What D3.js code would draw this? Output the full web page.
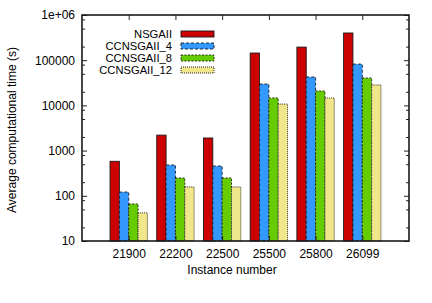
<!DOCTYPE html>
<html>
<head>
<meta charset="utf-8">
<script src="https://cdn.jsdelivr.net/npm/d3@7"></script>
<style>
  body { margin: 0; background: #fff; }
  svg { display: block; font-family: "Liberation Sans", Arial, sans-serif; }
  .axis text { font-size: 12px; fill: #000; }
  .axis line { stroke: #222; }
  .axis path { display: none; }
</style>
</head>
<body>
<svg id="chart" width="432" height="303"></svg>
<script>
// instances on the x axis
const instances = ['21900', '22200', '22500', '25500', '25800', '26099'];
const seriesNames = ['NSGAII', 'CCNSGAII_4', 'CCNSGAII_8', 'CCNSGAII_12'];

// average computational time (s)
const nsgaii      = [580, 2200, 1900, 144000, 195000, 400000];
const ccnsgaii4   = [121, 480, 455, 29700, 42500, 82000];
const ccnsgaii8   = [66, 248, 248, 14600, 20800, 40400];
const ccnsgaii12  = [42, 157, 157, 10700, 14600, 28300];

const yMajor = [10, 100, 1000, 10000, 100000, 1000000];

const seriesValues = [nsgaii, ccnsgaii4, ccnsgaii8, ccnsgaii12];
const colors = ['#cc0000', '#3399ff', '#66cc00', '#f0e68c'];
const dashes = [null, '3,2', '2,1.5', '1,1'];

const svg = d3.select('#chart');
const plotL = 82, plotR = 409, plotT = 15, plotB = 241;

// x: category index, with half a slot of padding (-1..6 like gnuplot)
const x = d3.scaleLinear().domain([-1, 6]).range([plotL, plotR]);
const y = d3.scaleLog().domain([10, 1e6]).range([plotB, plotT]);

const barW = 0.2;

// bars
seriesValues.forEach((vals, s) => {
  svg.append('g')
    .selectAll('rect')
    .data(vals)
    .enter()
    .append('rect')
    .attr('x', (d, i) => x(i - 0.4 + s * barW))
    .attr('width', x(barW) - x(0))
    .attr('y', d => y(d))
    .attr('height', d => plotB - y(d))
    .attr('fill', colors[s])
    .attr('stroke', '#1a1a1a')
    .attr('stroke-width', 0.9)
    .attr('stroke-dasharray', dashes[s]);
});

// minor log ticks at 2, 5, 8 of each decade
const yMinor = [];
yMajor.slice(0, -1).forEach(v => [2, 5, 8].forEach(k => yMinor.push(v * k)));

const fmt = d => d === 1e6 ? '1e+06' : String(d);

svg.append('g').attr('class', 'axis')
  .attr('transform', `translate(${plotL},0)`)
  .call(d3.axisLeft(y).tickValues(yMajor).tickFormat(fmt).tickSize(-5).tickPadding(7));
svg.append('g').attr('class', 'axis')
  .attr('transform', `translate(${plotL},0)`)
  .call(d3.axisLeft(y).tickValues(yMinor).tickFormat('').tickSize(-3));
svg.append('g').attr('class', 'axis')
  .attr('transform', `translate(${plotR},0)`)
  .call(d3.axisRight(y).tickValues(yMajor).tickFormat('').tickSize(-5));
svg.append('g').attr('class', 'axis')
  .attr('transform', `translate(${plotR},0)`)
  .call(d3.axisRight(y).tickValues(yMinor).tickFormat('').tickSize(-3));

// category ticks, bottom with labels and mirrored on top
svg.append('g').attr('class', 'axis')
  .attr('transform', `translate(0,${plotB})`)
  .call(d3.axisBottom(x).tickValues(d3.range(instances.length))
    .tickFormat(i => instances[i]).tickSize(-5).tickPadding(8));
svg.append('g').attr('class', 'axis')
  .attr('transform', `translate(0,${plotT})`)
  .call(d3.axisTop(x).tickValues(d3.range(instances.length)).tickFormat('').tickSize(-5));

// frame
svg.append('rect')
  .attr('x', plotL).attr('y', plotT)
  .attr('width', plotR - plotL).attr('height', plotB - plotT)
  .attr('fill', 'none').attr('stroke', '#1a1a1a').attr('stroke-width', 1.6);

// legend
const legend = svg.append('g').attr('transform', 'translate(0,34)');
seriesNames.forEach((name, s) => {
  const g = legend.append('g').attr('transform', `translate(0,${s * 12})`);
  g.append('text')
    .attr('x', 172).attr('y', 4)
    .attr('text-anchor', 'end')
    .attr('font-size', 11.2)
    .text(name);
  g.append('rect')
    .attr('x', 181).attr('y', -3)
    .attr('width', 33).attr('height', 6)
    .attr('fill', colors[s])
    .attr('stroke', '#1a1a1a')
    .attr('stroke-width', 0.9)
    .attr('stroke-dasharray', dashes[s]);
});

// axis titles
svg.append('text')
  .attr('x', 232).attr('y', 274)
  .attr('text-anchor', 'middle')
  .attr('font-size', 12)
  .text('Instance number');

svg.append('text')
  .attr('transform', 'translate(16,130) rotate(-90)')
  .attr('text-anchor', 'middle')
  .attr('font-size', 12)
  .text('Average computational time (s)');
</script>
</body>
</html>
